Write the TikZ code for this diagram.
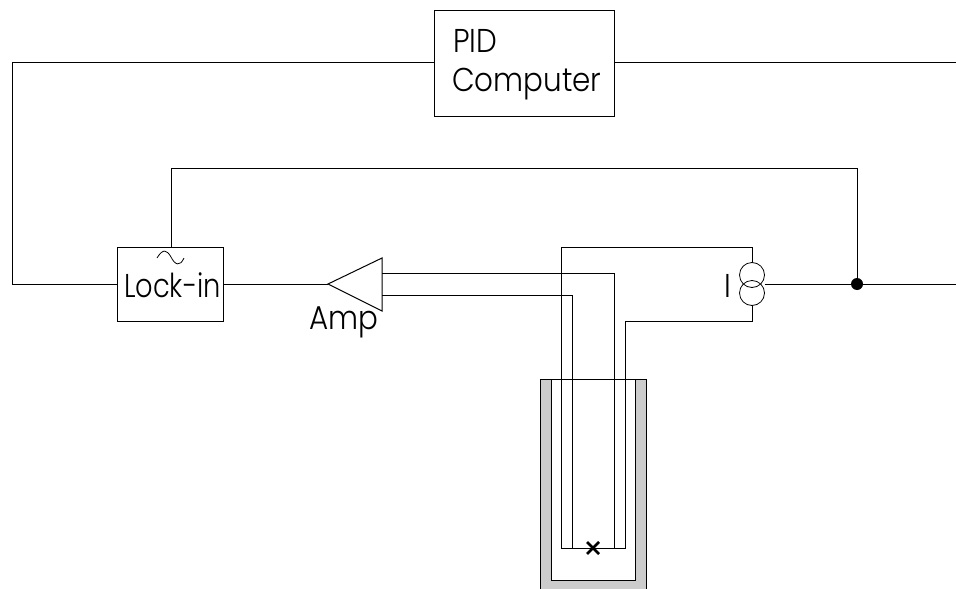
\documentclass[tikz,border=0pt]{standalone}
\usepackage{fontspec}
\usepackage{graphicx}
\setmainfont[FakeStretch=0.89]{Poppins Light}
\usetikzlibrary{positioning}
\tikzset{
  wire/.style={draw,line width=1pt},
  labeltext/.style={inner sep=0pt,font=\fontsize{33}{36}\selectfont},
  boxnode/.style={draw,line width=1pt,fill=white,inner sep=0pt},
  sourcecircle/.style={circle,draw,line width=0.8pt,minimum size=25pt,inner sep=0pt},
}
\begin{document}
\begin{tikzpicture}[x=1pt,y=1pt,yscale=-1,xscale=1]
  \useasboundingbox (0,0) rectangle (956,589);

  %Dewar
  \fill [fill={rgb,255:red,204;green,204;blue,204}] (540,379) rectangle (646,589);
  \fill [white] (551,379) rectangle (635,580);
  \draw [line width=1pt] (540,589) -- (540,379) -- (646,379) -- (646,589);
  \draw [line width=1pt] (551,379) -- (551,580) -- (635,580) -- (635,379);

  %Boxes
  \node (pid) [boxnode,minimum width=179.5pt,minimum height=105.5pt] at (524.25,63.25) {};
  \node (lockin) [boxnode,minimum width=106pt,minimum height=74pt] at (170,284) {};
  \node (src1) [sourcecircle] at (752,275) {};
  \node (src2) [sourcecircle] at (752,293) {};

  %Amp
  \coordinate (ampTip) at (328,284);
  \coordinate (ampTop) at (382,258);
  \coordinate (ampBot) at (382,311);
  \draw [line width=1pt] (ampTip) -- (ampTop) -- (ampBot) -- cycle;

  %Free ends and corners
  \coordinate (leftEnd) at (12,62);
  \coordinate (leftLow) at (12,284);
  \coordinate (rightTop) at (956,62);
  \coordinate (rightLow) at (956,284);
  \coordinate (fbLeft) at (171,168);
  \coordinate (fbRight) at (857,168);
  \coordinate (ampInA) at (382,273);
  \coordinate (ampInB) at (382,295);
  \coordinate (sampleL) at (561.5,548);
  \coordinate (sampleA) at (572,548);
  \coordinate (sampleB) at (614,548);
  \coordinate (sampleR) at (625,548);
  \node (dot) [circle,fill=black,minimum size=12pt,inner sep=0pt] at (857,284) {};

  %Feedback loop
  \draw [wire] (pid.west |- leftEnd) -- (leftEnd) -- (leftLow) -- (lockin.west);
  \draw [wire] (pid.east |- rightTop) -- (rightTop);
  \draw [wire] (lockin.north -| fbLeft) -- (fbLeft) -- (fbRight) -- (dot);
  \draw [wire] (lockin.east) -- (ampTip);
  \draw [wire] (src1.east |- dot) -- (dot) -- (rightLow);

  %Sample wires
  \draw [wire] (src1.north) -- (752,247) -- (561.5,247) -- (sampleL) -- (sampleR) -- (625,321) -- (752,321) -- (src2.south);
  \draw [wire] (ampInA) -- (614,273) -- (sampleB);
  \draw [wire] (ampInB) -- (572,295) -- (sampleA);

  %Sample mark
  \draw [line width=2.5pt] (587,542) -- (599,554) (587,554) -- (599,542);

  %Tilde
  \draw [line width=0.8pt] (157,258) .. controls (163,248) and (167,250) .. (171,257) .. controls (175,265) and (180,267) .. (184,258);

  % Text Node
  \node (pidtext) [labeltext,anchor=base west] at (453,52) {PID};
  \node (comptext) [labeltext,anchor=base west] at (452,91) {Computer};
  \node (locktext) [labeltext,anchor=base west] at (124,297) {\scalebox{0.93}[1]{Lock-in}};
  \node (amptext) [labeltext,anchor=base west] at (309,329) {Amp};
  \node (itext) [labeltext,anchor=base west] at (724,297) {I};
\end{tikzpicture}
\end{document}
